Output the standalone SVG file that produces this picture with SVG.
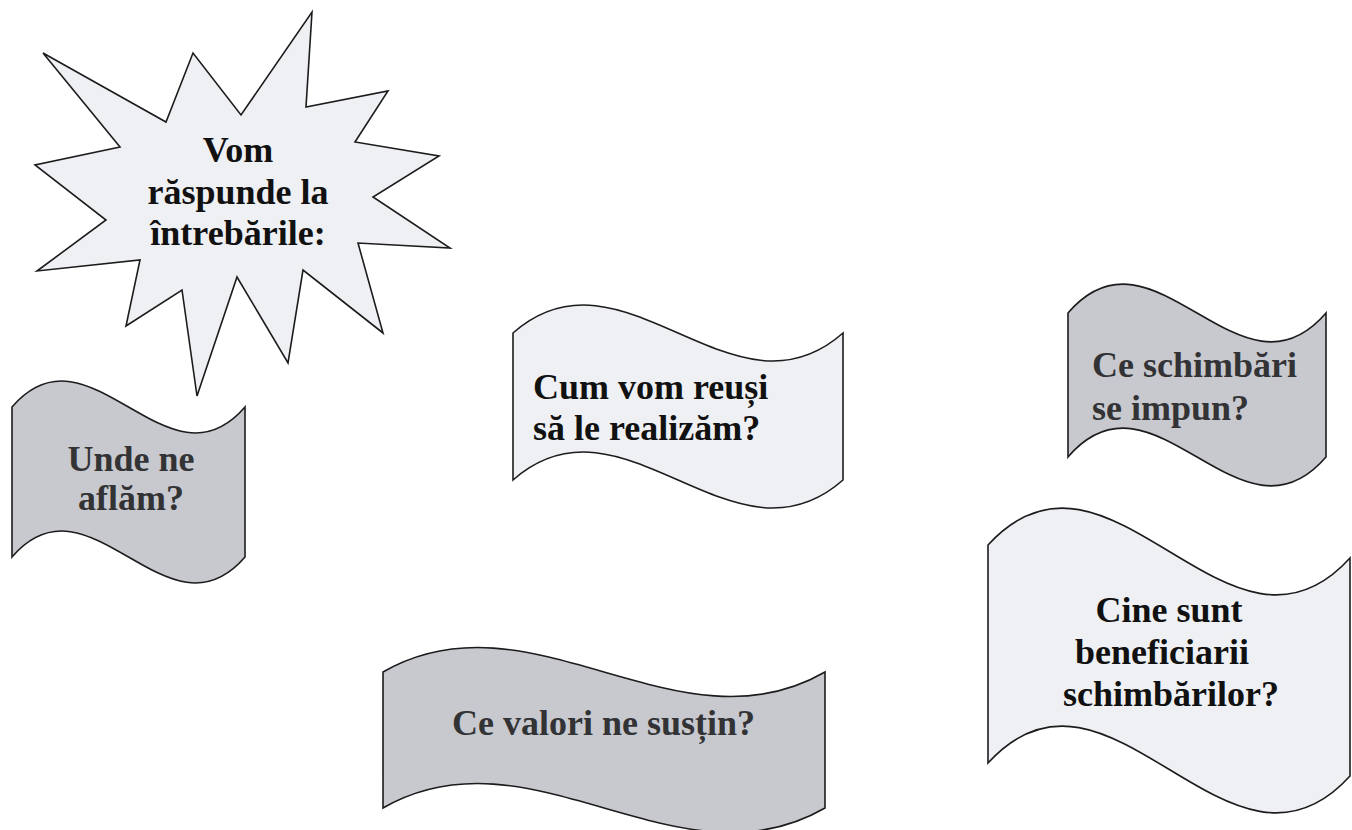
<svg xmlns="http://www.w3.org/2000/svg" width="1352" height="830" viewBox="0 0 1352 830">
<style>
.bg{fill:#ffffff}
.shape{stroke:#1c1c1c;stroke-width:1.6;stroke-linejoin:miter}
.light{fill:#eef0f4}
.gray{fill:#c7c9ce}
.t{font-family:"Liberation Serif","Times New Roman",serif;font-weight:bold;font-size:36px}
.tl{fill:#111111}
.tg{fill:#333336}
.c{text-anchor:middle}
</style>
<rect class="bg" x="0" y="0" width="1352" height="830"/>
<g id="star">
<polygon class="shape light" points="312,12 306,107 388,91 355,142 439,156 373,197 450,248 358,243 383,333 303,270 288,363 237,277 197,396 182,290 126,326 140,260 37,271 106,220 35,165 120,147 43,53 166,122 193,53 241,115"/>
<text class="t tl c" x="238" y="162">Vom</text>
<text class="t tl c" x="238" y="204">răspunde la</text>
<text class="t tl c" x="238" y="245">întrebările:</text>
</g>
<g id="unde">
<path class="shape gray" d="M12,407 C89.7,317 167.3,497 245,407 L245,557 C167.3,647 89.7,467 12,557 Z"/>
<text class="t tg c" x="131" y="471">Unde ne</text>
<text class="t tg c" x="131" y="510">aflăm?</text>
</g>
<g id="cum">
<path class="shape light" d="M513,333 C623,236 733,430 843,333 L843,480 C733,577 623,383 513,480 Z"/>
<text class="t tl" x="533" y="399">Cum vom reuși</text>
<text class="t tl" x="533" y="440">să le realizăm?</text>
</g>
<g id="schimbari">
<path class="shape gray" d="M1068,313 C1154,213 1240,413 1326,313 L1326,457 C1240,557 1154,357 1068,457 Z"/>
<text class="t tg" x="1092" y="377">Ce schimbări</text>
<text class="t tg" x="1092" y="420">se impun?</text>
</g>
<g id="valori">
<path class="shape gray" d="M383,672 C530.3,587 677.7,757 825,672 L825,808 C677.7,893 530.3,723 383,808 Z"/>
<text class="t tg" x="452" y="735">Ce valori ne susțin?</text>
</g>
<g id="beneficiari">
<path class="shape light" d="M988,545 C1109.3,412 1229.3,691 1350,558 L1350,776 C1229.3,909 1109.3,630 988,763 Z"/>
<text class="t tl c" x="1169" y="622">Cine sunt</text>
<text class="t tl c" x="1162" y="664">beneficiarii</text>
<text class="t tl c" x="1171" y="706">schimbărilor?</text>
</g>
<g id="connectors"/>
</svg>
